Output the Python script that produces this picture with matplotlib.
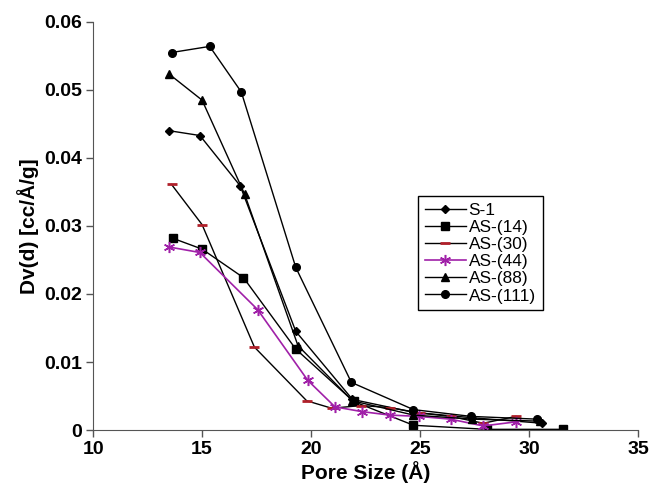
import matplotlib.pyplot as plt
from matplotlib.ticker import FuncFormatter

plt.rcParams['font.family'] = ['Liberation Sans', 'DejaVu Sans']

# pore size (A) and Dv(d) (cc/A/g)
s1_x = [13.5, 14.9, 16.75, 19.3, 21.9, 24.7, 27.4, 30.6]
s1_y = [0.0440, 0.0433, 0.0359, 0.0145, 0.0045, 0.0026, 0.0018, 0.0010]

as14_x = [13.65, 15.0, 16.9, 19.3, 21.95, 24.7, 28.05, 31.55]
as14_y = [0.0282, 0.0266, 0.0224, 0.0119, 0.0042, 0.0007, 0.0001, 0.0001]

as30_x = [13.6, 15.0, 17.4, 19.8, 20.95, 22.3, 23.6, 25.0, 26.4, 27.9, 29.4]
as30_y = [0.0361, 0.0302, 0.0122, 0.0043, 0.0032, 0.0036, 0.0033, 0.0025, 0.0020, 0.0010, 0.0020]

as44_x = [13.5, 14.9, 17.55, 19.85, 21.1, 22.35, 23.6, 24.95, 26.4, 27.9, 29.4]
as44_y = [0.0269, 0.0261, 0.0177, 0.0073, 0.0034, 0.0027, 0.0022, 0.0020, 0.0016, 0.0006, 0.0012]

as88_x = [13.5, 15.0, 16.95, 19.4, 21.9, 24.7, 27.4, 30.5]
as88_y = [0.0523, 0.0485, 0.0347, 0.0124, 0.0043, 0.0022, 0.0016, 0.0013]

as111_x = [13.6, 15.35, 16.8, 19.3, 21.85, 24.7, 27.35, 30.35]
as111_y = [0.0555, 0.0564, 0.0497, 0.0239, 0.0070, 0.0030, 0.0020, 0.0016]

fig = plt.figure(figsize=(6.51, 4.87), dpi=100)
ax = fig.add_axes([0.143, 0.117, 0.837, 0.838])

ax.plot(s1_x, s1_y, '-k', marker='D', ms=4.5, lw=1, label='S-1')
ax.plot(as14_x, as14_y, '-k', marker='s', ms=5.5, lw=1, label='AS-(14)')
ax.plot(as30_x, as30_y, '-k', marker='_', ms=7, mew=2, mec='#b0202a', lw=1, label='AS-(30)')
ax.plot(as44_x, as44_y, '-', color='#a020a8', marker=(6, 2, 0), ms=8, mew=1.1, lw=1.2, label='AS-(44)')
ax.plot(as88_x, as88_y, '-k', marker='^', ms=6, lw=1, label='AS-(88)')
ax.plot(as111_x, as111_y, '-k', marker='o', ms=5.5, lw=1, label='AS-(111)')

ax.set_xlim(10, 35)
ax.set_ylim(0, 0.06)
ax.set_xticks([10, 15, 20, 25, 30, 35])
ax.set_yticks([0, 0.01, 0.02, 0.03, 0.04, 0.05, 0.06])
ax.yaxis.set_major_formatter(FuncFormatter(lambda v, p: '0' if v == 0 else f'{v:.2f}'))
for lab in ax.get_xticklabels() + ax.get_yticklabels():
    lab.set_fontweight('bold')
    lab.set_fontsize(14)
ax.tick_params(direction='out', length=5, width=1, color='#555555', pad=3)

ax.spines['top'].set_visible(False)
ax.spines['right'].set_visible(False)
ax.spines['left'].set_color('#555555')
ax.spines['bottom'].set_color('#555555')

ax.set_xlabel('Pore Size (Å)', fontsize=15, fontweight='bold', labelpad=2)
ax.set_ylabel('Dv(d) [cc/Å/g]', fontsize=15, fontweight='bold', labelpad=4)

leg = ax.legend(loc='upper left', bbox_to_anchor=(0.596, 0.5735), fontsize=12.4,
                fancybox=False, edgecolor='k', framealpha=1, handlelength=2.4,
                borderpad=0.4, labelspacing=0.12, handletextpad=0.15, borderaxespad=0)
leg.get_frame().set_linewidth(1)

plt.savefig('out.png')
